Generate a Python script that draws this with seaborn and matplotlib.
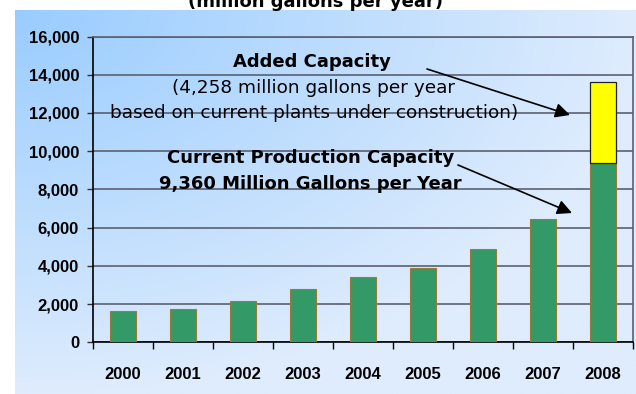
import numpy as np
import pandas as pd
import matplotlib
matplotlib.use("Agg")
import matplotlib.pyplot as plt
import seaborn as sns
from matplotlib.ticker import FuncFormatter

# Ethanol production capacity, million gallons per year
years = ["2000", "2001", "2002", "2003", "2004", "2005", "2006", "2007", "2008"]
current_capacity = [1630, 1760, 2140, 2800, 3420, 3900, 4860, 6470, 9360]
added_capacity = [0, 0, 0, 0, 0, 0, 0, 0, 4258]
y_ticks = [0, 2000, 4000, 6000, 8000, 10000, 12000, 14000, 16000]

sns.set_theme(style="white")
plt.rcParams["font.family"] = ["Liberation Sans", "DejaVu Sans"]
plt.rcParams["text.color"] = "black"

W_PX, H_PX = 636, 394
fig = plt.figure(figsize=(W_PX / 100, H_PX / 100), dpi=100)
fig.patch.set_facecolor("white")

# Blue gradient panel behind the chart (darkest at the top-left corner)
bg = fig.add_axes([15 / W_PX, 0, 1 - 15 / W_PX, 384.5 / H_PX], zorder=0)
u = np.linspace(0, 1, 400)[None, :]
v = np.linspace(0, 1, 250)[:, None]
t = np.clip(np.sqrt(u ** 2 + v ** 2), 0, 1)
c0 = np.array([153, 204, 255]) / 255
c1 = np.array([222, 236, 253]) / 255
grad = c0 + (c1 - c0) * t[..., None]
bg.imshow(grad, aspect="auto", extent=[0, 1, 0, 1], origin="upper")
bg.axis("off")

# Plot area
ax_bottom = 342.3
ax_top = 36.5
ax = fig.add_axes([93 / W_PX, (H_PX - ax_bottom) / H_PX,
                   540 / W_PX, (ax_bottom - ax_top) / H_PX], zorder=1)
ax.patch.set_alpha(0)

df = pd.DataFrame({"year": years,
                   "current": current_capacity,
                   "added": added_capacity})

sns.barplot(data=df, x="year", y="current", color="#339966", saturation=1,
            width=0.42, edgecolor="#9a7b3a", linewidth=0.8, ax=ax, zorder=3)
sns.barplot(data=df, x="year", y="added", bottom=np.array(current_capacity),
            color="#ffff00", saturation=1, width=0.42, edgecolor="#222222",
            linewidth=0.9, ax=ax, zorder=3)
for p in ax.patches:
    if p.get_height() == 0:
        p.set_visible(False)

ax.set_xlim(-0.5, 8.5)
ax.set_ylim(0, 16000)
ax.set_yticks(y_ticks)
ax.yaxis.set_major_formatter(FuncFormatter(lambda val, pos: f"{int(val):,}"))
ax.set_xlabel("")
ax.set_ylabel("")

grid_color = "#5b6070"
ax.grid(axis="y", color=grid_color, lw=1.2)
ax.grid(axis="x", visible=False)
ax.set_axisbelow(True)

ax.set_xticks(np.arange(-0.5, 9, 1), minor=True)
ax.tick_params(axis="x", which="major", length=0, pad=17.5, bottom=True)
ax.tick_params(axis="x", which="minor", length=5, width=1, color="black",
               direction="out", bottom=True)
ax.tick_params(axis="y", length=4.5, width=1, color="#333333",
               direction="out", pad=5.5, left=True)
for lab in ax.get_xticklabels() + ax.get_yticklabels():
    lab.set_fontsize(12)
    lab.set_fontweight("bold")
    lab.set_color("black")

for side in ("left", "bottom"):
    ax.spines[side].set_color("black")
    ax.spines[side].set_linewidth(1.2)
for side in ("top", "right"):
    ax.spines[side].set_color(grid_color)
    ax.spines[side].set_linewidth(1.2)

# Annotations
ann_font = "DejaVu Sans"
ax.text(3.15, 14388, "Added Capacity", ha="center", va="baseline",
        fontsize=13, fontweight="bold", family=ann_font, color="black", zorder=5)
ax.text(3.18, 13028, "(4,258 million gallons per year", ha="center",
        va="baseline", fontsize=13.3, family=ann_font, color="black", zorder=5)
ax.text(3.18, 11720, "based on current plants under construction)",
        ha="center", va="baseline", fontsize=13.3, family=ann_font,
        color="black", zorder=5)
ax.text(3.12, 9366, "Current Production Capacity", ha="center",
        va="baseline", fontsize=13, fontweight="bold", family=ann_font,
        color="black", zorder=5)
ax.text(3.12, 8021, "9,360 Million Gallons per Year", ha="center",
        va="baseline", fontsize=13, fontweight="bold", family=ann_font,
        color="black", zorder=5)

arrow_kw = dict(arrowstyle="-|>", mutation_scale=22, lw=1.2, color="black",
                shrinkA=0, shrinkB=0)
ax.annotate("", xy=(7.45, 11893), xytext=(5.067, 14300),
            arrowprops=arrow_kw, zorder=6)
ax.annotate("", xy=(7.483, 6765), xytext=(5.583, 9277),
            arrowprops=arrow_kw, zorder=6)

fig.text(315 / W_PX, 1 - 7 / H_PX, "(million gallons per year)", ha="center",
         va="baseline", fontsize=13, fontweight="bold", family="DejaVu Sans",
         color="black", zorder=10)

fig.savefig("out.png", dpi=100, facecolor="white")
